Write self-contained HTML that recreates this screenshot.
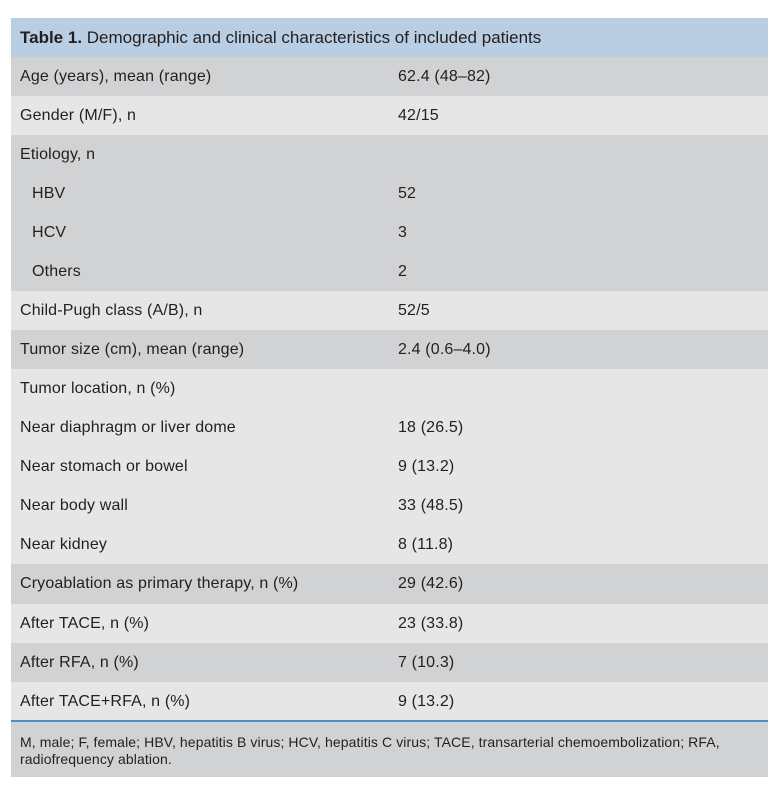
<!DOCTYPE html>
<html><head><meta charset="utf-8">
<style>
html,body{margin:0;padding:0;background:#fff;}
body{width:775px;height:785px;position:relative;overflow:hidden;font-family:"Liberation Sans",Arial,sans-serif;color:#231f20;}
.r{position:absolute;left:11px;width:757px;height:39px;line-height:40px;font-size:16px;white-space:nowrap;letter-spacing:0.15px;}
.g{background:#d1d2d4;}
.l{background:#e6e6e7;}
.h{background:#b9cde3;font-size:17px;letter-spacing:0;}
.a{position:absolute;left:9px;top:0;}
.b{position:absolute;left:387px;top:0;}
.i{left:21px;}
.fn{position:absolute;left:11px;top:720px;width:757px;height:57px;background:#d1d2d4;border-top:2px solid #4a90c0;box-sizing:border-box;font-size:14px;line-height:17px;white-space:nowrap;}
.fn div{position:absolute;left:9px;top:12px;letter-spacing:0.1px;}
</style></head><body>
<div class="r h" style="top:18px;"><span class="a"><b>Table 1.</b> Demographic and clinical characteristics of included patients</span></div>
<div class="r g" style="top:57px;"><span class="a">Age (years), mean (range)</span><span class="b">62.4 (48–82)</span></div>
<div class="r l" style="top:96px;"><span class="a">Gender (M/F), n</span><span class="b">42/15</span></div>
<div class="r g" style="top:135px;"><span class="a">Etiology, n</span></div>
<div class="r g" style="top:174px;"><span class="a i">HBV</span><span class="b">52</span></div>
<div class="r g" style="top:213px;"><span class="a i">HCV</span><span class="b">3</span></div>
<div class="r g" style="top:252px;"><span class="a i">Others</span><span class="b">2</span></div>
<div class="r l" style="top:291px;"><span class="a">Child-Pugh class (A/B), n</span><span class="b">52/5</span></div>
<div class="r g" style="top:330px;"><span class="a">Tumor size (cm), mean (range)</span><span class="b">2.4 (0.6–4.0)</span></div>
<div class="r l" style="top:369px;"><span class="a">Tumor location, n (%)</span></div>
<div class="r l" style="top:408px;"><span class="a">Near diaphragm or liver dome</span><span class="b">18 (26.5)</span></div>
<div class="r l" style="top:447px;"><span class="a">Near stomach or bowel</span><span class="b">9 (13.2)</span></div>
<div class="r l" style="top:486px;"><span class="a">Near body wall</span><span class="b">33 (48.5)</span></div>
<div class="r l" style="top:525px;"><span class="a">Near kidney</span><span class="b">8 (11.8)</span></div>
<div class="r g" style="top:564px;height:40px;"><span class="a">Cryoablation as primary therapy, n (%)</span><span class="b">29 (42.6)</span></div>
<div class="r l" style="top:604px;"><span class="a">After TACE, n (%)</span><span class="b">23 (33.8)</span></div>
<div class="r g" style="top:643px;"><span class="a">After RFA, n (%)</span><span class="b">7 (10.3)</span></div>
<div class="r l" style="top:682px;"><span class="a">After TACE+RFA, n (%)</span><span class="b">9 (13.2)</span></div>
<div class="fn"><div>M, male; F, female; HBV, hepatitis B virus; HCV, hepatitis C virus; TACE, transarterial chemoembolization; RFA,<br>radiofrequency ablation.</div></div>
</body></html>
